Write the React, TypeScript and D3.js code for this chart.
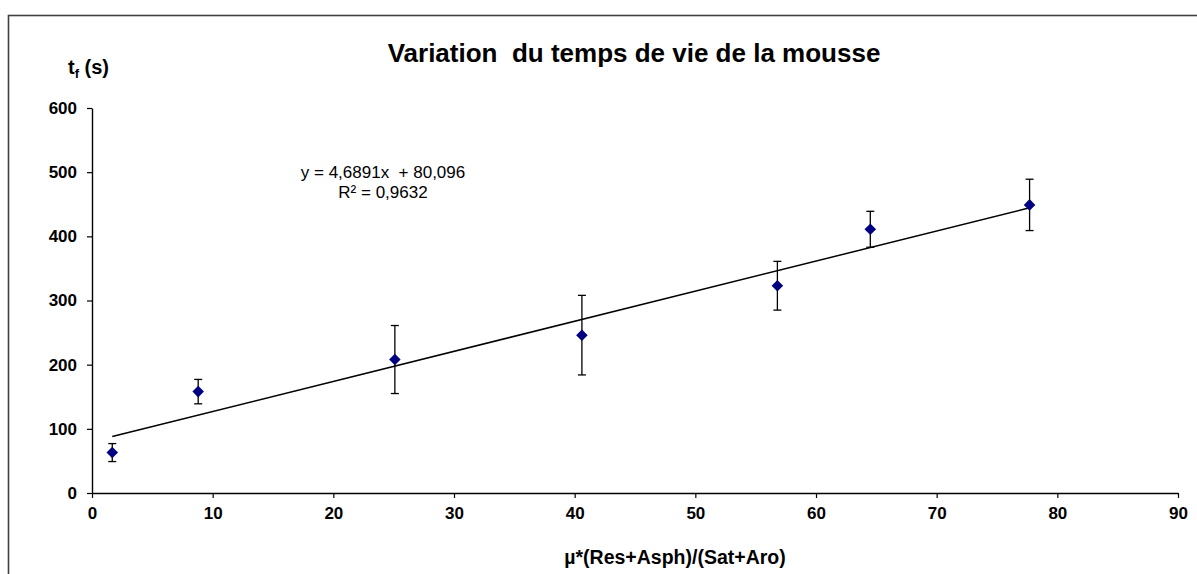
import React, { useEffect, useRef } from 'react';
import * as d3 from 'd3';

const xValues = [1.68, 8.8, 25.1, 40.6, 56.8, 64.5, 77.7];
const yValues = [63, 158, 208, 246, 323, 411, 449];
const errValues = [14, 19, 53, 62, 38, 28, 40];

const xTicks = [0, 10, 20, 30, 40, 50, 60, 70, 80, 90];
const yTicks = [0, 100, 200, 300, 400, 500, 600];

const slope = 4.6891;
const intercept = 80.096;

const W = 1197;
const H = 574;

const App = () => {
    const ref = useRef<SVGSVGElement>(null);

    useEffect(() => {
        const svg = d3.select(ref.current);
        svg.selectAll('*').remove();

        const x = d3.scaleLinear().domain([0, 90]).range([92, 1178]);
        const y = d3.scaleLinear().domain([0, 600]).range([493, 108]);

        // cadre
        svg.append('rect')
            .attr('x', 8.5).attr('y', 15.5)
            .attr('width', W).attr('height', H)
            .attr('fill', 'white')
            .attr('stroke', '#404040')
            .attr('stroke-width', 1.6);

        const font = 'Arial, "Liberation Sans", sans-serif';

        const xAxis = svg.append('g')
            .attr('transform', `translate(0,${y(0)})`)
            .call(d3.axisBottom(x).tickValues(xTicks).tickSize(5).tickSizeOuter(0).tickPadding(9));
        const yAxis = svg.append('g')
            .attr('transform', `translate(${x(0)},0)`)
            .call(d3.axisLeft(y).tickValues(yTicks).tickSize(5).tickSizeOuter(0).tickPadding(10));

        [xAxis, yAxis].forEach(g => {
            g.select('.domain').attr('stroke', '#000').attr('stroke-width', 1.4);
            g.selectAll('.tick line').attr('stroke', '#000').attr('stroke-width', 1.2);
            g.selectAll('.tick text')
                .attr('fill', '#000')
                .style('font-family', font)
                .style('font-size', '17px')
                .style('font-weight', 'bold');
        });

        // droite de régression
        const xmin = d3.min(xValues) as number;
        const xmax = d3.max(xValues) as number;
        svg.append('line')
            .attr('x1', x(xmin)).attr('y1', y(slope * xmin + intercept))
            .attr('x2', x(xmax)).attr('y2', y(slope * xmax + intercept))
            .attr('stroke', '#000')
            .attr('stroke-width', 1.5);

        const pts = xValues.map((v, i) => ({ x: v, y: yValues[i], e: errValues[i] }));

        // barres d'erreur
        const err = svg.append('g').attr('stroke', '#000').attr('stroke-width', 1.3);
        pts.forEach(p => {
            const cx = x(p.x);
            err.append('line').attr('x1', cx).attr('x2', cx).attr('y1', y(p.y - p.e)).attr('y2', y(p.y + p.e));
            err.append('line').attr('x1', cx - 4).attr('x2', cx + 4).attr('y1', y(p.y - p.e)).attr('y2', y(p.y - p.e));
            err.append('line').attr('x1', cx - 4).attr('x2', cx + 4).attr('y1', y(p.y + p.e)).attr('y2', y(p.y + p.e));
        });

        const diamond = d3.symbol().type(d3.symbolDiamond2).size(85);
        svg.append('g')
            .selectAll('path')
            .data(pts)
            .join('path')
            .attr('transform', d => `translate(${x(d.x)},${y(d.y)})`)
            .attr('d', diamond)
            .attr('fill', '#000080');

        // textes
        svg.append('text')
            .attr('x', 634).attr('y', 62)
            .attr('text-anchor', 'middle')
            .style('font-family', font)
            .style('font-size', '26px')
            .style('font-weight', 'bold')
            .style('white-space', 'pre')
            .text('Variation  du temps de vie de la mousse');

        const tf = svg.append('text')
            .attr('x', 68).attr('y', 74)
            .style('font-family', font)
            .style('font-size', '20px')
            .style('font-weight', 'bold');
        tf.append('tspan').text('t');
        tf.append('tspan').attr('dy', 4).style('font-size', '13px').text('f');
        tf.append('tspan').attr('dy', -4).text(' (s)');

        svg.append('text')
            .attr('x', 675).attr('y', 564)
            .attr('text-anchor', 'middle')
            .style('font-family', font)
            .style('font-size', '19.5px')
            .style('font-weight', 'bold')
            .text('µ*(Res+Asph)/(Sat+Aro)');

        const eq = svg.append('text')
            .attr('text-anchor', 'middle')
            .style('font-family', font)
            .style('font-size', '17px')
            .style('white-space', 'pre');
        eq.append('tspan').attr('x', 383).attr('y', 178).text('y = 4,6891x  + 80,096');
        eq.append('tspan').attr('x', 383).attr('y', 198).text('R² = 0,9632');
    }, []);

    return (
        <svg ref={ref} width={W} height={H}
            style={{ position: 'absolute', left: 0, top: 0, background: 'white' }} />
    );
};

export default App;
